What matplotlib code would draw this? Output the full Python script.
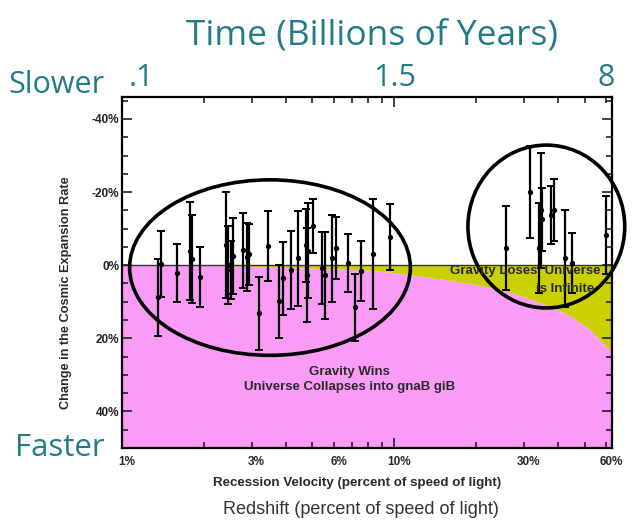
import numpy as np
import matplotlib
matplotlib.use("Agg")
import matplotlib.pyplot as plt
from matplotlib.patches import Ellipse
from matplotlib.ticker import FixedLocator, NullFormatter

# recession velocity (% of c), change in expansion rate (%), error (%)
vel = [1.36, 1.39, 1.59, 1.78, 1.81, 1.94, 2.41, 2.45, 2.52, 2.56, 2.79, 2.88, 2.93,
       3.19, 3.44, 3.78, 3.91, 4.18, 4.44, 4.75, 4.79, 4.83, 5.04, 5.43, 5.58,
       5.91, 6.12, 6.77, 7.19, 7.56, 8.37, 9.67,
       25.8, 31.4, 34.1, 34.6, 35.0, 37.5, 38.7, 42.5, 45.1, 59.7]
change = [8.8, -0.3, 2.2, -3.8, -1.6, 3.3, -5.5, 0.0, 1.4, -2.5, -4.1, -2.2, -3.0,
          13.2, -5.2, 9.9, 3.6, 1.4, -1.9, -5.5, 2.7, -4.0, -10.7, 0.8, 2.7,
          -1.9, -4.7, -0.5, 11.5, 1.6, -3.0, -7.6,
          -4.7, -20.0, -4.7, -15.0, -12.5, -13.7, -15.1, -1.9, -0.5, -8.2]
err = [10.5, 9.0, 8.0, 13.4, 12.0, 8.2, 14.4, 10.7, 7.9, 10.5, 10.3, 9.3, 8.4,
       10.0, 9.6, 9.9, 9.9, 10.7, 13.0, 10.0, 12.9, 13.0, 7.4, 9.9, 11.9,
       11.9, 8.6, 7.9, 9.2, 8.2, 15.0, 9.0,
       11.6, 12.5, 12.3, 15.7, 8.5, 7.9, 8.6, 13.3, 8.2, 10.7]

# boundary between "gravity wins" and "gravity loses"
curve_v = [1, 2, 3, 5, 8, 10, 15, 20, 27, 36, 44, 52, 63]
curve_d = [0, 0.0, 0.4, 0.8, 1.4, 2.0, 3.8, 5.3, 7.5, 10.8, 13.7, 17.5, 23.8]

xticks = [1, 3, 6, 10, 30, 60]
xticklabels = ['1%', '3%', '6%', '10%', '30%', '60%']
yticks = [-40, -20, 0, 20, 40]
yticklabels = ['-40%', '-20%', '0%', '20%', '40%']
time_pos = [1.18, 10, 60]
time_labels = ['.1', '1.5', '8']

teal = '#237b88'
pink = '#fa9cf5'
yellow = '#cbd000'

fig = plt.figure(figsize=(6.33, 5.22), dpi=100)
ax = fig.add_axes([122/633, 74/522, 490/633, 351/522])
ax.set_xscale('log')
ax.set_xlim(1, 63)
ax.set_ylim(50, -46)

ax.fill_between(curve_v, curve_d, 50, color=pink, lw=0, zorder=0)
ax.fill_between(curve_v, 0, curve_d, color=yellow, lw=0, zorder=0)
ax.axhline(0, color='#333333', lw=1, zorder=1)

ax.errorbar(vel, change, yerr=err, fmt='o', ms=2.8, color='black', ecolor='black',
            elinewidth=1.6, capsize=3, capthick=1.4, zorder=3)

ax.add_patch(Ellipse((0.302, 0.514), 0.573, 0.50, transform=ax.transAxes,
                     fill=False, ec='black', lw=2.6, zorder=4))
ax.add_patch(Ellipse((0.866, 0.631), 0.32, 0.464, transform=ax.transAxes,
                     fill=False, ec='black', lw=2.6, zorder=4, clip_on=False))

bold = dict(family='Liberation Sans', weight='bold', color='#2a2a2a')
ax.text(0.822, 0.503, 'Gravity Loses  Universe', transform=ax.transAxes,
        ha='center', va='center', fontsize=9.5, zorder=5, **bold)
ax.text(0.905, 0.452, 'is Infinite', transform=ax.transAxes,
        ha='center', va='center', fontsize=9.5, zorder=5, **bold)
ax.text(0.465, 0.217, 'Gravity Wins', transform=ax.transAxes,
        ha='center', va='center', fontsize=9.5, zorder=5, **bold)
ax.text(0.465, 0.174, 'Universe Collapses into gnaB giB', transform=ax.transAxes,
        ha='center', va='center', fontsize=9.5, zorder=5, **bold)

ax.xaxis.set_major_locator(FixedLocator([1, 10]))
ax.xaxis.set_minor_locator(FixedLocator([2, 3, 4, 5, 6, 7, 8, 9, 20, 30, 40, 50, 60]))
ax.xaxis.set_major_formatter(NullFormatter())
ax.xaxis.set_minor_formatter(NullFormatter())
for v, lab in zip(xticks, xticklabels):
    ax.text(v * 1.04, -0.022, lab, transform=ax.get_xaxis_transform(),
            ha='center', va='top', fontsize=8.5, **bold)

ax.set_yticks(yticks)
ax.set_yticklabels(yticklabels)
ax.yaxis.set_minor_locator(FixedLocator(np.arange(-45, 51, 5)))
ax.tick_params(which='both', direction='in', top=True, right=True, width=1.2,
               labelsize=8.5, colors='#222222', pad=2)
ax.tick_params(which='major', length=7)
ax.tick_params(which='minor', length=4)
for lab in ax.get_yticklabels():
    lab.set_fontweight('bold')
    lab.set_family('Liberation Sans')
for s in ax.spines.values():
    s.set_linewidth(1.6)

for v, lab in zip(time_pos, time_labels):
    ax.text(v, 1.012, lab, transform=ax.get_xaxis_transform(), ha='center',
            va='bottom', fontsize=22, color=teal, family='Open Sans')

fig.text(372/633, 1 - 35/522, 'Time (Billions of Years)', ha='center', va='center',
         fontsize=25.5, color=teal, family='Open Sans')
fig.text(57/633, 1 - 85/522, 'Slower', ha='center', va='center',
         fontsize=22, color=teal, family='Open Sans')
fig.text(60/633, 1 - 448/522, 'Faster', ha='center', va='center',
         fontsize=22.5, color=teal, family='Open Sans')
fig.text(66/633, 1 - 293/522, 'Change in the Cosmic Expansion Rate', rotation=90,
         ha='center', va='center', fontsize=9.2, **bold)
fig.text(357/633, 1 - 483/522, 'Recession Velocity (percent of speed of light)',
         ha='center', va='center', fontsize=9.6, **bold)
fig.text(361/633, 1 - 510/522, 'Redshift (percent of speed of light)',
         ha='center', va='center', fontsize=13, color='#333333', family='Liberation Sans')

fig.savefig('out.png', dpi=100)
